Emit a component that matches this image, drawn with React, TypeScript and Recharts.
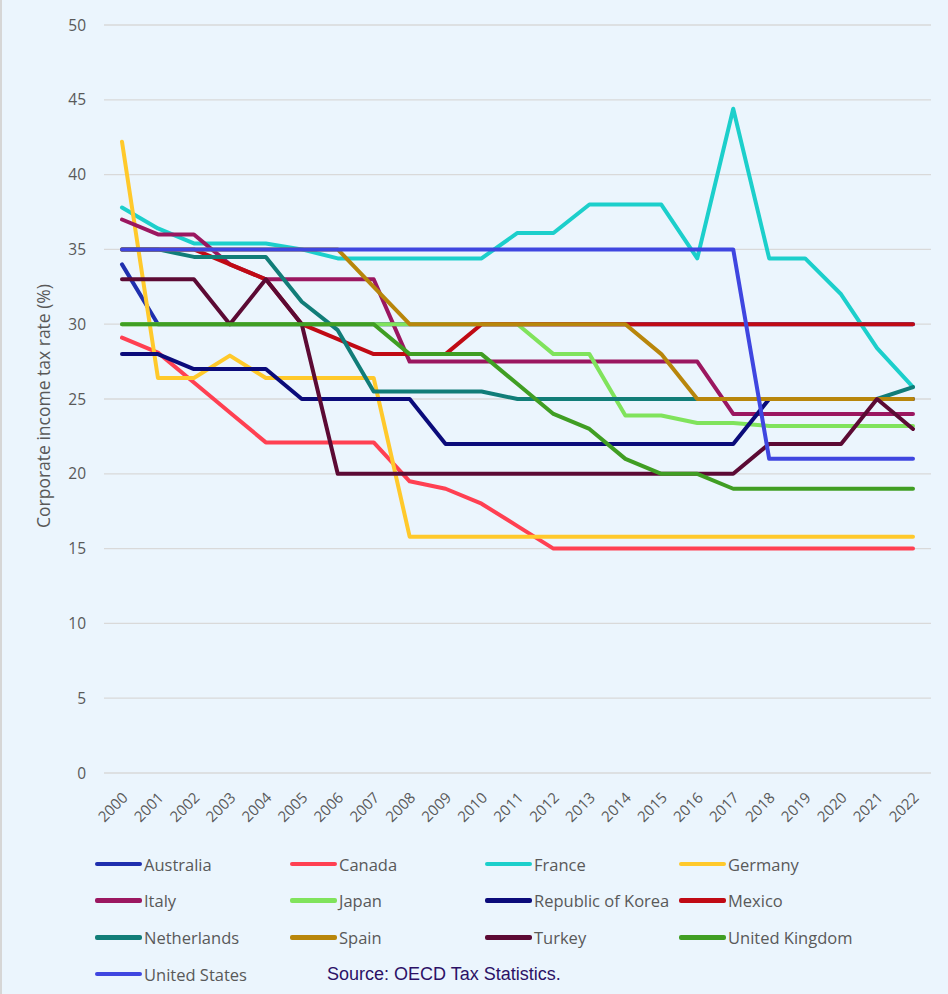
import { LineChart, Line, XAxis, YAxis, CartesianGrid, Legend } from 'recharts';

const years = ['2000', '2001', '2002', '2003', '2004', '2005', '2006', '2007', '2008', '2009', '2010', '2011',
    '2012', '2013', '2014', '2015', '2016', '2017', '2018', '2019', '2020', '2021', '2022'];

const australia = [34, 30, 30, 30, 30, 30, 30, 30, 30, 30, 30, 30, 30, 30, 30, 30, 30, 30, 30, 30, 30, 30, 30];
const canada = [29.1, 28.1, 26.1, 24.1, 22.1, 22.1, 22.1, 22.1, 19.5, 19, 18, 16.5, 15, 15, 15, 15, 15, 15, 15, 15, 15, 15, 15];
const france = [37.8, 36.4, 35.4, 35.4, 35.4, 35, 34.4, 34.4, 34.4, 34.4, 34.4, 36.1, 36.1, 38, 38, 38, 34.4, 44.4, 34.4, 34.4, 32, 28.4, 25.8];
const germany = [42.2, 26.4, 26.4, 27.9, 26.4, 26.4, 26.4, 26.4, 15.8, 15.8, 15.8, 15.8, 15.8, 15.8, 15.8, 15.8, 15.8, 15.8, 15.8, 15.8, 15.8, 15.8, 15.8];
const italy = [37, 36, 36, 34, 33, 33, 33, 33, 27.5, 27.5, 27.5, 27.5, 27.5, 27.5, 27.5, 27.5, 27.5, 24, 24, 24, 24, 24, 24];
const japan = [30, 30, 30, 30, 30, 30, 30, 30, 30, 30, 30, 30, 28, 28, 23.9, 23.9, 23.4, 23.4, 23.2, 23.2, 23.2, 23.2, 23.2];
const korea = [28, 28, 27, 27, 27, 25, 25, 25, 25, 22, 22, 22, 22, 22, 22, 22, 22, 22, 25, 25, 25, 25, 25];
const mexico = [35, 35, 35, 34, 33, 30, 29, 28, 28, 28, 30, 30, 30, 30, 30, 30, 30, 30, 30, 30, 30, 30, 30];
const netherlands = [35, 35, 34.5, 34.5, 34.5, 31.5, 29.6, 25.5, 25.5, 25.5, 25.5, 25, 25, 25, 25, 25, 25, 25, 25, 25, 25, 25, 25.8];
const spain = [35, 35, 35, 35, 35, 35, 35, 32.5, 30, 30, 30, 30, 30, 30, 30, 28, 25, 25, 25, 25, 25, 25, 25];
const turkey = [33, 33, 33, 30, 33, 30, 20, 20, 20, 20, 20, 20, 20, 20, 20, 20, 20, 20, 22, 22, 22, 25, 23];
const uk = [30, 30, 30, 30, 30, 30, 30, 30, 28, 28, 28, 26, 24, 23, 21, 20, 20, 19, 19, 19, 19, 19, 19];
const us = [35, 35, 35, 35, 35, 35, 35, 35, 35, 35, 35, 35, 35, 35, 35, 35, 35, 35, 21, 21, 21, 21, 21];

const yTicks = [0, 5, 10, 15, 20, 25, 30, 35, 40, 45, 50];

const series = [
    { key: 'Australia', values: australia, color: '#1f2fae' },
    { key: 'Canada', values: canada, color: '#ff4052' },
    { key: 'France', values: france, color: '#1ccfcb' },
    { key: 'Germany', values: germany, color: '#ffc92b' },
    { key: 'Italy', values: italy, color: '#9b1760' },
    { key: 'Japan', values: japan, color: '#80e35c' },
    { key: 'Republic of Korea', values: korea, color: '#0b0b7a' },
    { key: 'Mexico', values: mexico, color: '#c00a14' },
    { key: 'Netherlands', values: netherlands, color: '#117d78' },
    { key: 'Spain', values: spain, color: '#b8860b' },
    { key: 'Turkey', values: turkey, color: '#5c0a34' },
    { key: 'United Kingdom', values: uk, color: '#409e23' },
    { key: 'United States', values: us, color: '#3f46e0' },
];

const data = years.map((year, i) => {
    const row: { [key: string]: any } = { year };
    series.forEach(s => { row[s.key] = s.values[i]; });
    return row;
});

const FONT = "'Open Sans', 'Noto Sans', sans-serif";
const GREY = '#595959';

const YearTick = ({ x, y, payload }: any) => (
    <g transform={`translate(${x + 3},${y + 22}) rotate(-45)`}>
        <text x={0} y={0} dy="0.35em" textAnchor="end" fill={GREY} fontSize={15} fontFamily={FONT}>
            {payload.value}
        </text>
    </g>
);

const colX = [93, 288, 483, 677];

const CustomLegend = () => (
    <div style={{ position: 'relative', width: 948, height: 151 }}>
        {series.map((s, i) => {
            const col = i % 4;
            const row = Math.floor(i / 4);
            return (
                <div key={s.key} style={{
                    position: 'absolute', left: colX[col], top: 21 + row * 36.7 - 12, height: 24,
                    display: 'flex', alignItems: 'center', whiteSpace: 'nowrap',
                }}>
                    <span style={{ display: 'inline-block', width: 47, height: 4.5, borderRadius: 2, background: s.color, marginRight: 2 }} />
                    <span style={{ fontFamily: FONT, fontSize: 16.5, color: GREY }}>{s.key}</span>
                </div>
            );
        })}
        <div style={{
            position: 'absolute', left: 325, top: 21 + 3 * 36.7 - 12, height: 24, display: 'flex', alignItems: 'center',
            fontFamily: "'Liberation Sans', Arial, sans-serif", fontSize: 18, color: '#2b1166', whiteSpace: 'nowrap',
        }}>
            Source: OECD Tax Statistics.
        </div>
    </div>
);

export default function App() {
    return (
        <div style={{
            position: 'absolute', left: 0, top: 0, width: 948, height: 994, background: '#ebf5fd',
            borderLeft: '2px solid #d6d6d6', boxSizing: 'border-box',
        }}>
            <LineChart width={946} height={994} data={data} margin={{ top: 25, right: 17, left: 0, bottom: 0 }}>
                <CartesianGrid vertical={false} stroke="#d9d9d9" strokeWidth={1.3} />
                <XAxis dataKey="year" interval={0} tick={<YearTick />} tickLine={false} axisLine={false}
                    tickSize={0} tickMargin={0} height={70} padding={{ left: 18, right: 18 }} />
                <YAxis domain={[0, 50]} ticks={yTicks} width={102} tickLine={false} axisLine={false}
                    tickSize={0} tickMargin={18} tick={{ fill: GREY, fontSize: 15.5, fontFamily: FONT }}
                    label={{
                        value: 'Corporate income tax rate (%)', angle: -90, position: 'insideLeft', offset: 42,
                        dy: 7,
                        style: { textAnchor: 'middle', fill: GREY, fontSize: 17.5, fontFamily: FONT },
                    }} />
                <Legend verticalAlign="bottom" content={<CustomLegend />}
                    wrapperStyle={{ left: 0, bottom: 0, width: 948, height: 151 }} />
                {series.map(s => (
                    <Line key={s.key} type="linear" dataKey={s.key} stroke={s.color} strokeWidth={4}
                        dot={false} activeDot={false} strokeLinejoin="round" strokeLinecap="round"
                        isAnimationActive={false} />
                ))}
            </LineChart>
        </div>
    );
}
